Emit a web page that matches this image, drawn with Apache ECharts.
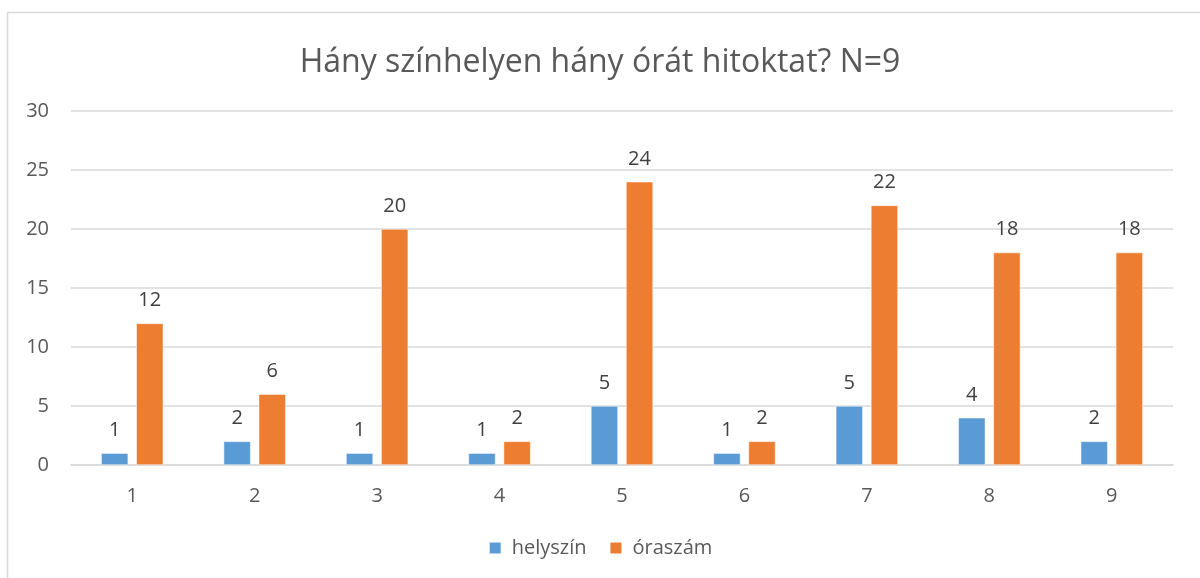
<!DOCTYPE html>
<html>
<head>
<meta charset="utf-8">
<script src="https://cdn.jsdelivr.net/npm/echarts@6/dist/echarts.min.js"></script>
<style>
  html, body { margin: 0; padding: 0; background: #fff; }
  #chart { width: 1200px; height: 578px; }
</style>
</head>
<body>
<div id="chart"></div>
<script>
// categories and values
var categories = ['1', '2', '3', '4', '5', '6', '7', '8', '9'];
var helyszin = [1, 2, 1, 1, 5, 1, 5, 4, 2];
var oraszam = [12, 6, 20, 2, 24, 2, 22, 18, 18];
var yTicks = { min: 0, max: 30, interval: 5 };

var font = '"Open Sans", "Noto Sans", sans-serif';

var chart = echarts.init(document.getElementById('chart'));

chart.setOption({
  animation: false,
  textStyle: { fontFamily: font },
  graphic: [{
    type: 'rect',
    shape: { x: 7.5, y: 12.5, width: 1200, height: 600 },
    style: { fill: 'none', stroke: '#d9d9d9', lineWidth: 1.5 },
    silent: true
  }],
  title: {
    text: 'Hány színhelyen hány órát hitoktat? N=9',
    left: 'center',
    top: 42,
    textStyle: { fontSize: 32, fontWeight: 'normal', color: '#595959', fontFamily: font }
  },
  legend: {
    bottom: 15,
    left: 'center',
    itemWidth: 13,
    itemHeight: 13,
    itemGap: 22,
    icon: 'rect',
    textStyle: { fontSize: 20, color: '#595959', fontFamily: font, padding: [0, 0, 0, 5] },
    data: ['helyszín', 'óraszám']
  },
  grid: { left: 71, right: 27, top: 111, bottom: 113 },
  xAxis: {
    type: 'category',
    data: categories,
    axisLine: { lineStyle: { color: '#d9d9d9', width: 1.5 } },
    axisTick: { show: false },
    axisLabel: { fontSize: 20, color: '#595959', margin: 21 }
  },
  yAxis: {
    type: 'value',
    min: yTicks.min,
    max: yTicks.max,
    interval: yTicks.interval,
    axisLine: { show: false },
    axisTick: { show: false },
    splitLine: { lineStyle: { color: '#d9d9d9', width: 1.5 } },
    axisLabel: { fontSize: 20, color: '#595959', margin: 22 }
  },
  series: [
    {
      name: 'helyszín',
      type: 'bar',
      data: helyszin,
      barWidth: 27,
      barGap: '30%',
      itemStyle: { color: '#5B9BD5', borderColor: '#ffffff', borderWidth: 0.5 },
      label: { show: true, position: 'top', distance: 13, fontSize: 20, color: '#404040' }
    },
    {
      name: 'óraszám',
      type: 'bar',
      data: oraszam,
      barWidth: 27,
      barGap: '30%',
      itemStyle: { color: '#ED7D31', borderColor: '#ffffff', borderWidth: 0.5 },
      label: { show: true, position: 'top', distance: 13, fontSize: 20, color: '#404040' }
    }
  ]
});
</script>
</body>
</html>
